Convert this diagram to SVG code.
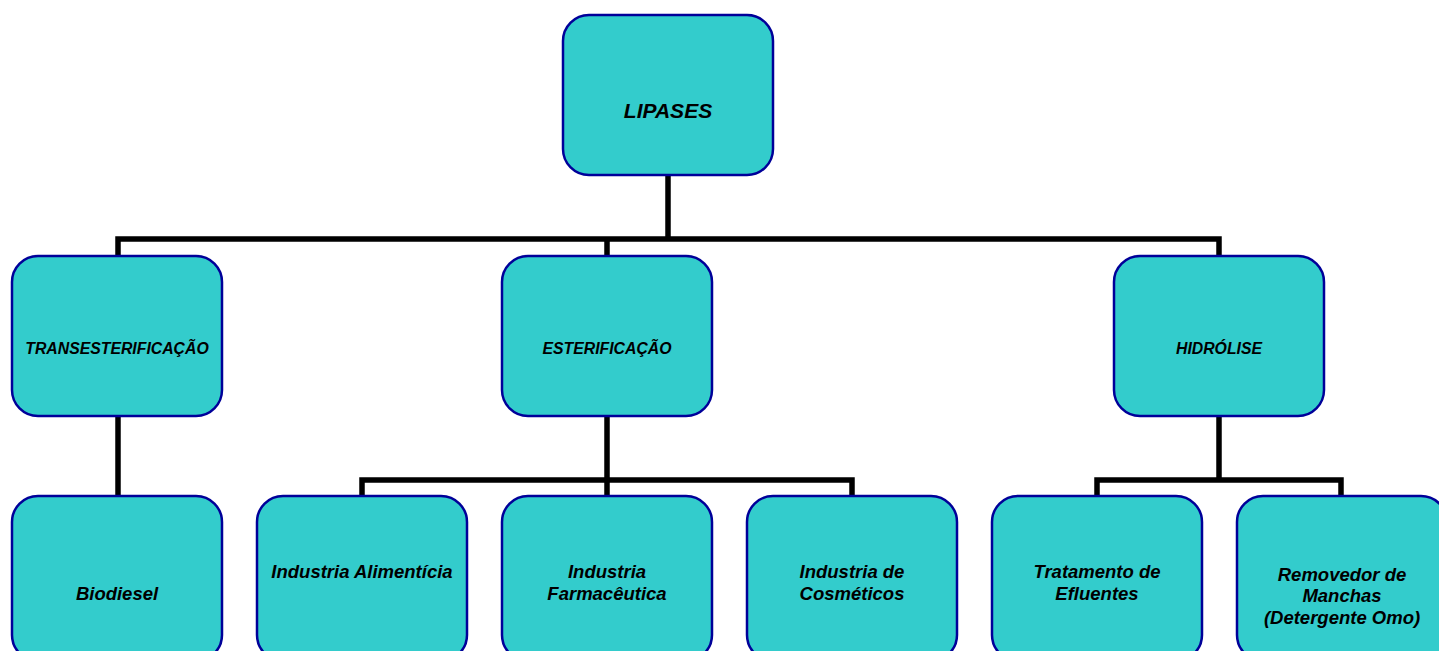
<svg xmlns="http://www.w3.org/2000/svg" width="1439" height="651" viewBox="0 0 1439 651">
<style>
.box{fill:#33CCCC;stroke:#000099;stroke-width:2.5}
.t{font-family:"Liberation Sans",Arial,sans-serif;font-weight:bold;font-style:italic;fill:#000;text-anchor:middle}
.l1{font-size:21px}
.l2{font-size:15.8px}
.l3{font-size:18.5px}
.c{fill:none;stroke:#000;stroke-width:5.5;stroke-linejoin:miter;stroke-linecap:square}
</style>
<rect width="1439" height="651" fill="#fff"/>
<g id="connectors">
<path class="c" d="M668 176V239M118 239H1219M118 239V255M607 239V255M1219 239V255"/>
<path class="c" d="M118 417V495"/>
<path class="c" d="M607 417V480M362 480H852M362 480V495M607 480V495M852 480V495"/>
<path class="c" d="M1219 417V480M1097 480H1341M1097 480V495M1341 480V495"/>
</g>
<g id="lipases"><rect class="box" x="563" y="15" width="210" height="160" rx="26"/><text class="t l1" x="668" y="118">LIPASES</text></g>
<g id="transesterificacao"><rect class="box" x="12" y="256" width="210" height="160" rx="26"/><text class="t l2" x="117" y="354">TRANSESTERIFICAÇÃO</text></g>
<g id="esterificacao"><rect class="box" x="502" y="256" width="210" height="160" rx="26"/><text class="t l2" x="607" y="354">ESTERIFICAÇÃO</text></g>
<g id="hidrolise"><rect class="box" x="1114" y="256" width="210" height="160" rx="26"/><text class="t l2" x="1219" y="354">HIDRÓLISE</text></g>
<g id="biodiesel"><rect class="box" x="12" y="496" width="210" height="165" rx="26"/><text class="t l3" x="117" y="600">Biodiesel</text></g>
<g id="alimenticia"><rect class="box" x="257" y="496" width="210" height="165" rx="26"/><text class="t l3" x="362" y="578">Industria Alimentícia</text></g>
<g id="farmaceutica"><rect class="box" x="502" y="496" width="210" height="165" rx="26"/><text class="t l3" x="607" y="578">Industria</text><text class="t l3" x="607" y="600">Farmacêutica</text></g>
<g id="cosmeticos"><rect class="box" x="747" y="496" width="210" height="165" rx="26"/><text class="t l3" x="852" y="578">Industria de</text><text class="t l3" x="852" y="600">Cosméticos</text></g>
<g id="efluentes"><rect class="box" x="992" y="496" width="210" height="165" rx="26"/><text class="t l3" x="1097" y="578">Tratamento de</text><text class="t l3" x="1097" y="600">Efluentes</text></g>
<g id="manchas"><rect class="box" x="1237" y="496" width="210" height="165" rx="26"/><text class="t l3" x="1342" y="581">Removedor de</text><text class="t l3" x="1342" y="602">Manchas</text><text class="t l3" x="1342" y="624">(Detergente Omo)</text></g>
</svg>
